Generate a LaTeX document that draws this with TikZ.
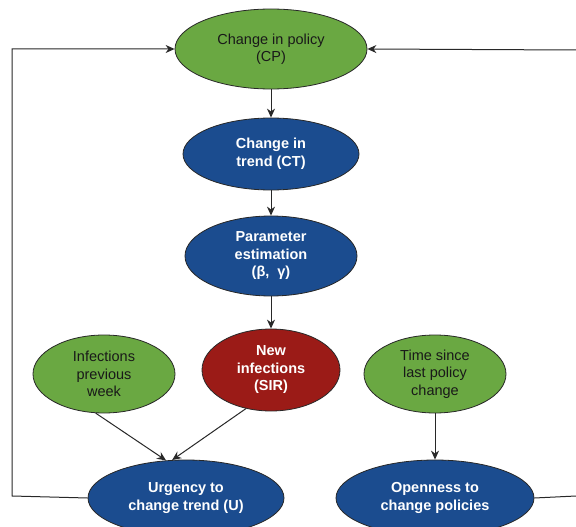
\documentclass[tikz,border=0pt]{standalone}
\usepackage{fontspec}
\setmainfont{Liberation Sans}
\usetikzlibrary{shapes.geometric,arrows.meta}
\definecolor{gfill}{RGB}{106,168,66}
\definecolor{bfill}{RGB}{27,76,143}
\definecolor{rfill}{RGB}{155,27,23}
\definecolor{edge}{RGB}{40,40,40}
\tikzset{
  ell/.style={ellipse, draw=edge, line width=0.8pt, inner sep=0pt, align=center,
    font=\fontsize{14.5}{17.5}\selectfont},
  gnode/.style={ell, fill=gfill, text=black!90},
  bnode/.style={ell, fill=bfill, text=white, font=\fontsize{14.5}{17.5}\selectfont\bfseries},
  rnode/.style={ell, fill=rfill, text=white, font=\fontsize{14.5}{17.5}\selectfont\bfseries},
  conn/.style={draw=edge, line width=1pt, -{Stealth[length=9pt,width=8pt]}},
  plain/.style={draw=edge, line width=1pt}
}
\begin{document}
\begin{tikzpicture}[x=1pt,y=-1pt]
\useasboundingbox[fill=white] (0,0) rectangle (576,527);
\node[gnode, minimum width=192pt, minimum height=80pt] (cp) at (271,49) {Change in policy\\(CP)};
\node[bnode, minimum width=176pt, minimum height=72pt] (ct) at (271,154) {Change in\\trend (CT)};
\node[bnode, minimum width=172pt, minimum height=80pt] (pe) at (271,256) {Parameter\\estimation\\(β,\ \ γ)};
\node[rnode, minimum width=138pt, minimum height=82pt] (ni) at (271,370) {New\\infections\\(SIR)};
\node[gnode, minimum width=142pt, minimum height=78pt] (ip) at (104,374) {Infections\\previous\\week};
\node[gnode, minimum width=142pt, minimum height=78pt] (ts) at (435,374) {Time since\\last policy\\change};
\node[bnode, minimum width=196pt, minimum height=76pt] (ur) at (186,498) {Urgency to\\change trend (U)};
\node[bnode, minimum width=198pt, minimum height=76pt] (op) at (435,498) {Openness to\\change policies};
\coordinate (lc) at (12,496);
\coordinate (re) at (576,496);
\coordinate (rt) at (576,50);
\draw[conn] (cp) -- (ct);
\draw[conn] (ct) -- (pe);
\draw[conn] (pe) -- (ni);
\draw[conn] (ip.258) -- (ur.118);
\draw[conn] (ni.237) -- (ur.110);
\draw[conn] (ts) -- (op);
\draw[conn] (ur.west) -- (lc) |- (cp.west);
\draw[plain] (op.east) -- (re);
\draw[conn] (rt) -- (cp.east);
\end{tikzpicture}
\end{document}
